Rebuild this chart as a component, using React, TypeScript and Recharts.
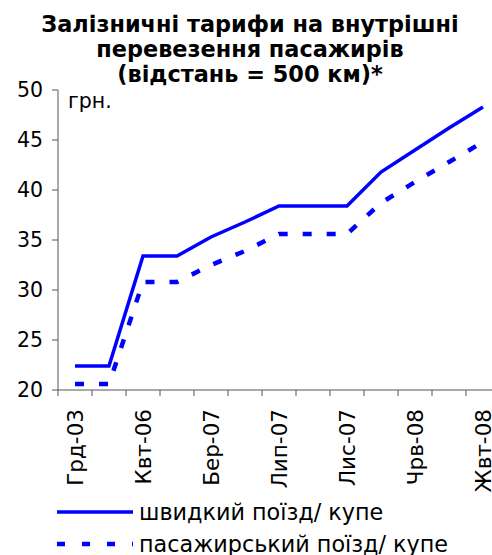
import { LineChart, Line, XAxis, YAxis, Legend } from "recharts";

// місяці (підписано кожен другий)
const months = [
  "Грд-03", "Сер-05", "Квт-06", "Вер-06", "Бер-07", "Тра-07", "Лип-07",
  "Вер-07", "Лис-07", "Бер-08", "Чрв-08", "Сер-08", "Жвт-08",
];
const fastCoupe = [22.4, 22.4, 33.4, 33.4, 35.3, 36.8, 38.4, 38.4, 38.4, 41.8, 44.0, 46.2, 48.3];
const passengerCoupe = [20.6, 20.6, 30.8, 30.8, 32.5, 33.9, 35.6, 35.6, 35.6, 38.7, 40.8, 42.8, 44.8];
const yTicks = [20, 25, 30, 35, 40, 45, 50];
const seriesNames = ["швидкий поїзд/ купе", "пасажирський поїзд/ купе"];
const titleLines = ["Залізничні тарифи на внутрішні", "перевезення пасажирів", "(відстань = 500 км)*"];
const unit = "грн.";

const data = months.map((m, i) => ({ month: m, fast: fastCoupe[i], passenger: passengerCoupe[i] }));

const FONT = "'DejaVu Sans', Verdana, sans-serif";
const BLUE = "#0000FF";
const AXIS = "#555";
const HALF_STEP = 17;

const MonthTick = (props: any) => {
  const { x, y, payload } = props;
  const i = payload.index;
  const last = i === months.length - 1;
  return (
    <g>
      <line x1={x - HALF_STEP} x2={x - HALF_STEP} y1={y} y2={y + 6} stroke={AXIS} />
      {last && <line x1={x + HALF_STEP} x2={x + HALF_STEP} y1={y} y2={y + 6} stroke={AXIS} />}
      {i % 2 === 0 && (
        <text
          transform={`translate(${x},${y + 19}) rotate(-90)`}
          textAnchor="end"
          dy={7.5}
          fontSize={21.5}
          fontFamily={FONT}
          fill="#000"
        >
          {payload.value}
        </text>
      )}
    </g>
  );
};

const LegendBox = () => (
  <div style={{ fontFamily: FONT, fontSize: 22.3, color: "#000" }}>
    {seriesNames.map((name, i) => (
      <div key={name} style={{ display: "flex", alignItems: "center", height: 32 }}>
        <svg width={82} height={10} style={{ flexShrink: 0 }}>
          <line
            x1={0}
            x2={76}
            y1={5}
            y2={5}
            stroke={BLUE}
            strokeWidth={i === 0 ? 3.5 : 4.5}
            strokeDasharray={i === 0 ? undefined : "8 17"}
          />
        </svg>
        <span style={{ whiteSpace: "nowrap", lineHeight: "32px" }}>{name}</span>
      </div>
    ))}
  </div>
);

export default function App() {
  return (
    <div style={{ position: "absolute", left: 0, top: 0, width: 492, height: 555, overflow: "hidden", background: "#fff" }}>
      <div
        style={{
          position: "absolute",
          left: 4,
          top: 12,
          width: 492,
          textAlign: "center",
          fontFamily: FONT,
          fontWeight: "bold",
          fontSize: 22.4,
          lineHeight: "25px",
          color: "#000",
          zIndex: 2,
        }}
      >
        {titleLines.map((t) => (
          <div key={t} style={{ whiteSpace: "nowrap" }}>{t}</div>
        ))}
      </div>
      <div
        style={{
          position: "absolute",
          left: 68,
          top: 89,
          fontFamily: FONT,
          fontSize: 20.5,
          lineHeight: "24px",
          color: "#000",
          zIndex: 2,
        }}
      >
        {unit}
      </div>
      <LineChart width={501} height={555} data={data} margin={{ top: 90, right: 1, bottom: 65, left: 0 }}>
        <XAxis
          dataKey="month"
          interval={0}
          padding={{ left: HALF_STEP, right: HALF_STEP }}
          height={100}
          tickLine={false}
          tickSize={0}
          tickMargin={0}
          axisLine={{ stroke: AXIS }}
          tick={<MonthTick />}
        />
        <YAxis
          domain={[20, 50]}
          ticks={yTicks}
          interval={0}
          width={58}
          tickSize={6}
          tickMargin={9}
          axisLine={{ stroke: AXIS }}
          tickLine={{ stroke: AXIS }}
          tick={{ fontSize: 20.5, fontFamily: FONT, fill: "#000" }}
        />
        <Line
          dataKey="fast"
          name={seriesNames[0]}
          stroke={BLUE}
          strokeWidth={3.5}
          dot={false}
          isAnimationActive={false}
        />
        <Line
          dataKey="passenger"
          name={seriesNames[1]}
          stroke={BLUE}
          strokeWidth={4.5}
          strokeDasharray="9 15"
          dot={false}
          isAnimationActive={false}
        />
        <Legend
          layout="vertical"
          align="center"
          verticalAlign="middle"
          wrapperStyle={{ top: 496, left: 57, width: 440 }}
          content={<LegendBox />}
        />
      </LineChart>
    </div>
  );
}
